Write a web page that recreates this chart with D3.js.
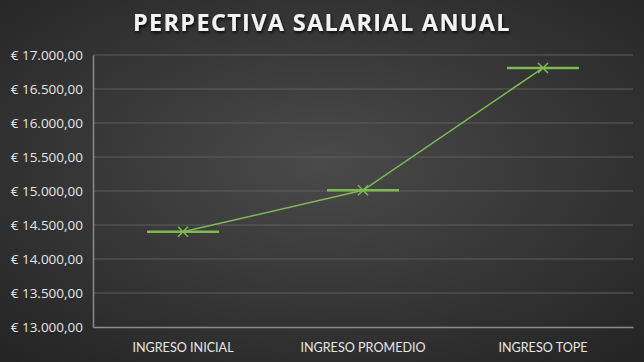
<!DOCTYPE html>
<html>
<head>
<meta charset="utf-8">
<script src="https://cdn.jsdelivr.net/npm/d3@7"></script>
<style>
  html, body { margin: 0; padding: 0; background: #2b2b2b; }
  svg { display: block; }
</style>
</head>
<body>
<script>
const categories = ['INGRESO INICIAL', 'INGRESO PROMEDIO', 'INGRESO TOPE'];
const salaries = [14400, 15010, 16810];
const yTicks = [13000, 13500, 14000, 14500, 15000, 15500, 16000, 16500, 17000];
const title = 'PERPECTIVA SALARIAL ANUAL';

const w = 644, h = 362;
const plotLeft = 93, plotRight = 633, plotTop = 55, plotBottom = 327;

const svg = d3.select('body').append('svg')
  .attr('width', w)
  .attr('height', h);

const defs = svg.append('defs');
const bg = defs.append('radialGradient')
  .attr('id', 'bg')
  .attr('cx', '50%').attr('cy', '45%').attr('r', '75%');
bg.append('stop').attr('offset', '0%').attr('stop-color', '#4a4a4a');
bg.append('stop').attr('offset', '100%').attr('stop-color', '#232323');

const shadow = defs.append('filter').attr('id', 'shadow')
  .attr('x', '-10%').attr('y', '-30%').attr('width', '120%').attr('height', '160%');
shadow.append('feDropShadow')
  .attr('dx', 1).attr('dy', 2).attr('stdDeviation', 1.5)
  .attr('flood-color', '#000').attr('flood-opacity', 0.8);

svg.append('rect')
  .attr('width', w).attr('height', h)
  .attr('fill', 'url(#bg)');

const x = d3.scaleBand()
  .domain(categories)
  .range([plotLeft, plotRight]);

const y = d3.scaleLinear()
  .domain([13000, 17000])
  .range([plotBottom, plotTop]);

const fmt = v => '€ ' + d3.format(',.2f')(v).replace(/,/g, '#').replace('.', ',').replace(/#/g, '.');

// gridlines
svg.append('g')
  .selectAll('line')
  .data(yTicks.filter(t => t !== 13000))
  .enter().append('line')
  .attr('x1', plotLeft).attr('x2', plotRight)
  .attr('y1', d => y(d)).attr('y2', d => y(d))
  .attr('stroke', '#5e5e5e')
  .attr('stroke-width', 1);

// y axis
const yAxis = d3.axisLeft(y).tickValues(yTicks).tickFormat(fmt).tickSize(0).tickPadding(10);
const gy = svg.append('g')
  .attr('transform', 'translate(' + plotLeft + ',0)')
  .call(yAxis);
gy.select('.domain').attr('stroke', '#8a8a8a').attr('stroke-width', 1.5);
gy.selectAll('text')
  .attr('fill', '#e6e6e6')
  .style('font-family', 'Open Sans, sans-serif')
  .style('font-size', '13.5px');

// x axis
const xAxis = d3.axisBottom(x).tickSize(0).tickPadding(16);
const gx = svg.append('g')
  .attr('transform', 'translate(0,' + plotBottom + ')')
  .call(xAxis);
gx.select('.domain').attr('stroke', '#8a8a8a').attr('stroke-width', 1.5);
gx.selectAll('text')
  .attr('fill', '#e6e6e6')
  .style('font-family', 'Lato, sans-serif')
  .style('font-size', '12.6px');

const cx = d => x(d) + x.bandwidth() / 2;
const green = '#7dbb52';

// connecting line
const line = d3.line()
  .x((d, i) => cx(categories[i]))
  .y(d => y(d));
svg.append('path')
  .datum(salaries)
  .attr('d', line)
  .attr('fill', 'none')
  .attr('stroke', green)
  .attr('stroke-width', 1.5);

// horizontal dash markers
svg.append('g')
  .selectAll('line')
  .data(salaries)
  .enter().append('line')
  .attr('x1', (d, i) => cx(categories[i]) - 36)
  .attr('x2', (d, i) => cx(categories[i]) + 36)
  .attr('y1', d => y(d)).attr('y2', d => y(d))
  .attr('stroke', green)
  .attr('stroke-width', 2.5);

// x markers
svg.append('g')
  .selectAll('path')
  .data(salaries)
  .enter().append('path')
  .attr('d', (d, i) => {
    const px = cx(categories[i]), py = y(d), s = 5;
    return 'M' + (px - s) + ',' + (py - s) + 'L' + (px + s) + ',' + (py + s) +
      'M' + (px - s) + ',' + (py + s) + 'L' + (px + s) + ',' + (py - s);
  })
  .attr('stroke', green)
  .attr('stroke-width', 1.5)
  .attr('fill', 'none');

svg.append('text')
  .attr('x', w / 2)
  .attr('y', 31)
  .attr('text-anchor', 'middle')
  .attr('fill', '#f2f2f2')
  .attr('filter', 'url(#shadow)')
  .style('font-family', 'Open Sans, sans-serif')
  .style('font-weight', 'bold')
  .style('font-size', '23.5px')
  .style('letter-spacing', '1.3px')
  .text(title);
</script>
</body>
</html>
